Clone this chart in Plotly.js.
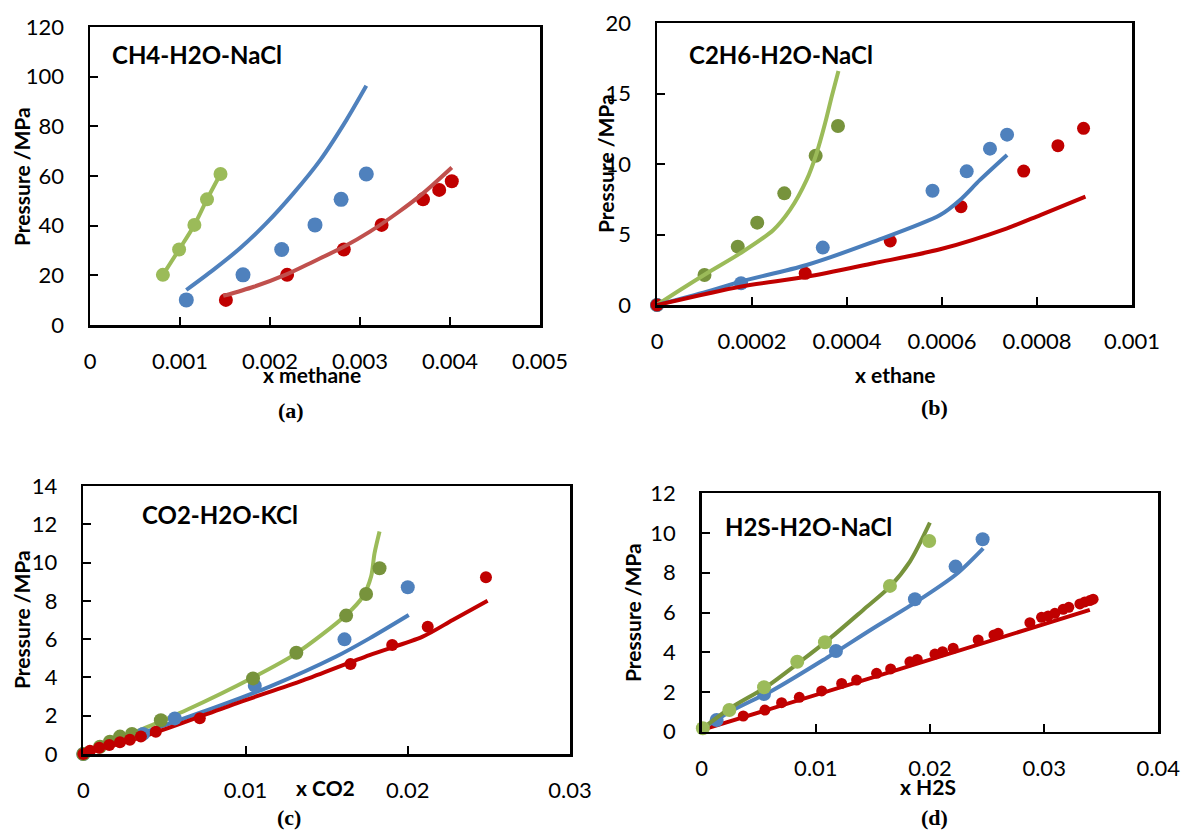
<!DOCTYPE html>
<html>
<head>
<meta charset="utf-8">
<script src="https://cdn.plot.ly/plotly-3.0.1.min.js"></script>
<style>
html,body{margin:0;padding:0;background:#fff;}
#chart{width:1183px;height:835px;}
</style>
</head>
<body>
<div id="chart"></div>
<script>
// ---------- Panel (a) CH4-H2O-NaCl ----------
const a_green_x = [0.00081, 0.00099, 0.00116, 0.00130, 0.00145];
const a_green_y = [20.2, 30.4, 40.3, 50.6, 60.8];
const a_blue_px = [0.00107, 0.00170, 0.00213, 0.00250, 0.00279, 0.00307];
const a_blue_py = [10.1, 20.2, 30.4, 40.3, 50.6, 60.8];
const a_blue_lx = [0.00107, 0.00137, 0.00167, 0.00196, 0.00226, 0.00256, 0.00285, 0.00307];
const a_blue_ly = [14.1, 22.2, 31.0, 41.0, 53.0, 66.5, 82.6, 96.3];
const a_red_px = [0.00151, 0.00219, 0.00282, 0.00324, 0.00370, 0.00388, 0.00402];
const a_red_py = [10.1, 20.2, 30.4, 40.3, 50.6, 54.4, 57.9];
const a_red_lx = [0.00148, 0.00182, 0.00219, 0.00248, 0.00282, 0.00311, 0.00341, 0.00370, 0.00402];
const a_red_ly = [11.7, 15.4, 20.5, 25.5, 31.5, 37.6, 45.0, 53.0, 63.4];
const a_xticks = [0, 0.001, 0.002, 0.003, 0.004, 0.005];
const a_xticktext = ["0", "0.001", "0.002", "0.003", "0.004", "0.005"];
const a_yticks = [0, 20, 40, 60, 80, 100, 120];

// ---------- Panel (b) C2H6-H2O-NaCl ----------
const b_green_px = [0, 0.000100, 0.000170, 0.000211, 0.000268, 0.000334, 0.000381];
const b_green_py = [0, 2.13, 4.14, 5.84, 7.92, 10.59, 12.7];
const b_green_lx = [0, 0.0000485, 0.000105, 0.000175, 0.000245, 0.000280, 0.000315, 0.000336, 0.000354, 0.000368, 0.000382];
const b_green_ly = [0, 1.06, 2.25, 3.66, 5.32, 6.74, 8.87, 10.76, 12.9, 14.8, 16.6];
const b_blue_px = [0, 0.000177, 0.000349, 0.000580, 0.000652, 0.000701, 0.000737];
const b_blue_py = [0, 1.54, 4.07, 8.10, 9.48, 11.09, 12.08];
const b_blue_lx = [0, 0.000105, 0.000175, 0.000315, 0.000456, 0.000596, 0.000638, 0.000680, 0.000737];
const b_blue_ly = [0, 0.94, 1.65, 2.84, 4.49, 6.38, 7.45, 8.87, 10.64];
const b_red_px = [0, 0.000312, 0.000491, 0.000640, 0.000772, 0.000844, 0.000898];
const b_red_py = [0, 2.25, 4.54, 6.97, 9.50, 11.30, 12.53];
const b_red_lx = [0, 0.000175, 0.000315, 0.000456, 0.000596, 0.000737, 0.000807, 0.000902];
const b_red_ly = [0, 1.30, 2.00, 2.96, 3.95, 5.44, 6.38, 7.68];
const b_xticks = [0, 0.0002, 0.0004, 0.0006, 0.0008, 0.001];
const b_xticktext = ["0", "0.0002", "0.0004", "0.0006", "0.0008", "0.001"];
const b_yticks = [0, 5, 10, 15, 20];

// ---------- Panel (c) CO2-H2O-KCl ----------
const c_green_px = [0, 0.00103, 0.00164, 0.00226, 0.00300, 0.00478, 0.01046, 0.01313, 0.01620, 0.01743, 0.01826];
const c_green_py = [0, 0.38, 0.64, 0.91, 1.05, 1.76, 3.95, 5.29, 7.23, 8.36, 9.70];
const c_green_lx = [0, 0.00328, 0.00636, 0.01046, 0.01313, 0.01620, 0.01723, 0.01774, 0.01795, 0.01826];
const c_green_ly = [0, 1.17, 2.30, 4.00, 5.26, 7.26, 8.22, 9.27, 10.48, 11.62];
const c_blue_px = [0, 0.00368, 0.00564, 0.01057, 0.01610, 0.02000];
const c_blue_py = [0, 1.05, 1.86, 3.57, 5.99, 8.71];
const c_blue_lx = [0, 0.00328, 0.00738, 0.01149, 0.01559, 0.01764, 0.02006];
const c_blue_ly = [0, 0.99, 2.21, 3.52, 5.09, 6.04, 7.26];
const c_red_px = [0, 0.00041, 0.00098, 0.00160, 0.00226, 0.00287, 0.00355, 0.00447, 0.00718, 0.01647, 0.01904, 0.02123, 0.02482];
const c_red_py = [0, 0.17, 0.33, 0.47, 0.61, 0.75, 0.92, 1.16, 1.87, 4.70, 5.69, 6.65, 9.23];
const c_red_lx = [0, 0.00431, 0.00944, 0.01354, 0.01764, 0.02092, 0.02277, 0.02492];
const c_red_ly = [0, 1.08, 2.65, 3.85, 5.17, 6.13, 7.00, 8.01];
const c_xticks = [0, 0.01, 0.02, 0.03];
const c_xticktext = ["0", "0.01", "0.02", "0.03"];
const c_yticks = [0, 2, 4, 6, 8, 10, 12, 14];

// ---------- Panel (d) H2S-H2O-NaCl ----------
const d_green_px = [0.0001, 0.00242, 0.00546, 0.00837, 0.01080, 0.01649, 0.01993];
const d_green_py = [0.17, 1.09, 2.24, 3.52, 4.50, 7.34, 9.60];
const d_green_lx = [0.0001, 0.00248, 0.00569, 0.00861, 0.01124, 0.01415, 0.01649, 0.01824, 0.01999];
const d_green_ly = [0.17, 1.18, 2.27, 3.52, 4.70, 6.13, 7.30, 8.56, 10.52];
const d_blue_px = [0.00131, 0.00546, 0.01176, 0.01868, 0.02224, 0.02461];
const d_blue_py = [0.59, 1.90, 4.06, 6.67, 8.31, 9.69];
const d_blue_lx = [0.0001, 0.00248, 0.00627, 0.01065, 0.01503, 0.01883, 0.02233, 0.02466];
const d_blue_ly = [0.17, 1.01, 2.10, 3.61, 5.21, 6.55, 7.94, 9.23];
const d_red_px = [0.0001, 0.00364, 0.00554, 0.00700, 0.00855, 0.01051, 0.01226, 0.01357, 0.01532, 0.01655,
  0.01824, 0.01888, 0.02043, 0.02110, 0.02203, 0.02422, 0.02560, 0.02597, 0.02875, 0.02977,
  0.03035, 0.03094, 0.03166, 0.03216, 0.03313, 0.03356, 0.03400, 0.03429];
const d_red_py = [0.17, 0.79, 1.09, 1.46, 1.73, 2.05, 2.43, 2.60, 2.94, 3.16,
  3.52, 3.64, 3.91, 4.03, 4.20, 4.62, 4.87, 4.95, 5.49, 5.76,
  5.83, 5.96, 6.16, 6.26, 6.43, 6.53, 6.60, 6.67];
const d_red_lx = [0.0001, 0.01649, 0.03400];
const d_red_ly = [0.10, 3.00, 6.13];
const d_xticks = [0, 0.01, 0.02, 0.03, 0.04];
const d_xticktext = ["0", "0.01", "0.02", "0.03", "0.04"];
const d_yticks = [0, 2, 4, 6, 8, 10, 12];

const panelTitles = ["CH4-H2O-NaCl", "C2H6-H2O-NaCl", "CO2-H2O-KCl", "H2S-H2O-NaCl"];
const xTitles = ["x methane", "x ethane", "x CO2", "x H2S"];
const yTitle = "Pressure /MPa";
const panelLabels = ["(a)", "(b)", "(c)", "(d)"];

// ---------- colours ----------
const GREEN = "#9BBB59", OLIVE = "#77933C", BLUE = "#4F81BD", BLUE2 = "#4A7EBB", RED = "#C00000", RED2 = "#C0504D";

const W = 1183, H = 835;
function px(x) { return x / W; }
function py(y) { return 1 - y / H; }

function mk(xa, ya, x, y, color, size) {
  return {x: x, y: y, xaxis: xa, yaxis: ya, type: "scatter", mode: "markers", cliponaxis: false,
    marker: {color: color, size: size}, hoverinfo: "skip"};
}
function ln(xa, ya, x, y, color, width) {
  return {x: x, y: y, xaxis: xa, yaxis: ya, type: "scatter", mode: "lines", cliponaxis: false,
    line: {color: color, width: width || 4, shape: "spline", smoothing: 0.8}, hoverinfo: "skip"};
}

const data = [
  // (a)
  mk("x", "y", a_blue_px, a_blue_py, BLUE, 15),
  mk("x", "y", a_red_px, a_red_py, RED, 14),
  ln("x", "y", a_blue_lx, a_blue_ly, BLUE, 4),
  ln("x", "y", a_red_lx, a_red_ly, RED2, 4),
  ln("x", "y", a_green_x, a_green_y, GREEN, 4),
  mk("x", "y", a_green_x, a_green_y, GREEN, 14),
  // (b)
  mk("x2", "y2", b_green_px, b_green_py, OLIVE, 14),
  mk("x2", "y2", b_blue_px, b_blue_py, BLUE, 14),
  mk("x2", "y2", b_red_px, b_red_py, RED, 13),
  ln("x2", "y2", b_green_lx, b_green_ly, GREEN, 4),
  ln("x2", "y2", b_blue_lx, b_blue_ly, BLUE2, 4),
  ln("x2", "y2", b_red_lx, b_red_ly, RED, 4),
  // (c)
  ln("x3", "y3", c_green_lx, c_green_ly, GREEN, 4),
  ln("x3", "y3", c_blue_lx, c_blue_ly, BLUE2, 4),
  ln("x3", "y3", c_red_lx, c_red_ly, RED, 4),
  mk("x3", "y3", c_blue_px, c_blue_py, BLUE, 14),
  mk("x3", "y3", c_green_px, c_green_py, OLIVE, 14),
  mk("x3", "y3", c_red_px, c_red_py, RED, 12),
  // (d)
  ln("x4", "y4", d_red_lx, d_red_ly, RED, 4),
  mk("x4", "y4", d_red_px, d_red_py, RED, 11),
  ln("x4", "y4", d_blue_lx, d_blue_ly, BLUE, 4),
  mk("x4", "y4", d_blue_px, d_blue_py, BLUE, 14),
  ln("x4", "y4", d_green_lx, d_green_ly, OLIVE, 4),
  mk("x4", "y4", d_green_px, d_green_py, GREEN, 14)
];

const TICKFONT = {family: "Lato, 'Open Sans', sans-serif", size: 22, color: "#000"};
function ax(domain, range, tickvals, ticktext, anchor, standoff) {
  const o = {domain: domain, range: range, tickmode: "array", tickvals: tickvals,
    showline: true, mirror: true, linecolor: "#000", linewidth: 2.5,
    ticks: "inside", ticklen: 8, tickwidth: 2, tickcolor: "#000",
    showgrid: false, zeroline: false, tickfont: TICKFONT, ticklabelstandoff: standoff,
    anchor: anchor, fixedrange: true};
  if (ticktext) o.ticktext = ticktext;
  return o;
}

// plot-area pixel boxes [left, right, top, bottom]
const boxA = [90, 540, 27, 325];
const boxB = [657, 1132, 23, 305];
const boxC = [83.3, 570, 486, 754];
const boxD = [701.7, 1158.3, 493.3, 731.7];
function xd(b) { return [px(b[0]), px(b[1])]; }
function yd(b) { return [py(b[3]), py(b[2])]; }

const layout = {
  width: W, height: H, margin: {l: 0, r: 0, t: 0, b: 0},
  paper_bgcolor: "#fff", plot_bgcolor: "#fff", showlegend: false,
  xaxis: ax(xd(boxA), [0, 0.005], a_xticks, a_xticktext, "y", 15),
  yaxis: ax(yd(boxA), [0, 120], a_yticks, null, "x", 19),
  xaxis2: ax(xd(boxB), [0, 0.001], b_xticks, b_xticktext, "y2", 15),
  yaxis2: ax(yd(boxB), [0, 20], b_yticks, null, "x2", 19),
  xaxis3: ax(xd(boxC), [0, 0.03], c_xticks, c_xticktext, "y3", 15),
  yaxis3: ax(yd(boxC), [0, 14], c_yticks, null, "x3", 19),
  xaxis4: ax(xd(boxD), [0, 0.04], d_xticks, d_xticktext, "y4", 15),
  yaxis4: ax(yd(boxD), [0, 12], d_yticks, null, "x4", 19),
  annotations: []
};

const TITLEFONT = {family: "Lato, 'Open Sans', sans-serif", size: 24, color: "#000", weight: "bold"};
const AXTFONT = {family: "Lato, 'Open Sans', sans-serif", size: 21, color: "#000", weight: "bold"};
const LABFONT = {family: "'Liberation Serif', 'Times New Roman', serif", size: 22, color: "#000", weight: "bold"};

function ann(text, x, y, font, opts) {
  return Object.assign({text: text, xref: "paper", yref: "paper", x: px(x), y: py(y),
    xanchor: "center", yanchor: "middle", showarrow: false, font: font}, opts || {});
}

// panel chart titles (left aligned)
const titlePos = [[110, 54], [687, 54], [140, 514], [723, 526]];
// x axis titles
const xTitlePos = [[312, 374], [895, 374], [325, 787], [928, 786]];
// y axis titles
const yTitlePos = [[21, 177], [606, 164], [21, 620], [632, 613]];
// panel labels
const labelPos = [[291, 410], [934, 407], [289, 817], [934, 817]];

for (let i = 0; i < 4; i++) {
  layout.annotations.push(ann(panelTitles[i], titlePos[i][0], titlePos[i][1], TITLEFONT, {xanchor: "left"}));
  layout.annotations.push(ann(xTitles[i], xTitlePos[i][0], xTitlePos[i][1], AXTFONT));
  layout.annotations.push(ann(yTitle, yTitlePos[i][0], yTitlePos[i][1], AXTFONT, {textangle: -90}));
  layout.annotations.push(ann(panelLabels[i], labelPos[i][0], labelPos[i][1], LABFONT));
}

Plotly.newPlot("chart", data, layout, {staticPlot: true, displayModeBar: false});
</script>
</body>
</html>
